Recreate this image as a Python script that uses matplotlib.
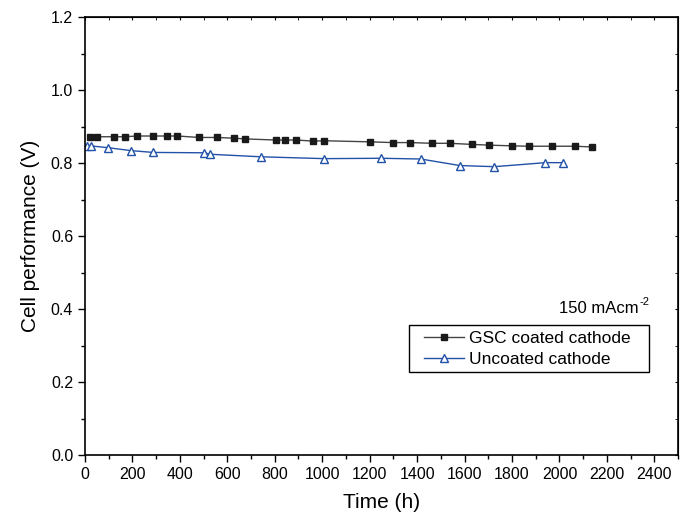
import matplotlib
matplotlib.use("Agg")
import matplotlib.pyplot as plt
from matplotlib.patches import Rectangle
from matplotlib.ticker import MultipleLocator

plt.rcParams['font.family'] = ['Liberation Sans', 'DejaVu Sans']

# coated cathode
t_gsc = [21, 49, 122, 169, 218, 288, 345, 389, 482, 555, 628, 675, 805, 843, 890,
         962, 1008, 1202, 1297, 1370, 1464, 1538, 1632, 1703, 1800, 1871, 1969, 2066, 2137]
v_gsc = [0.870, 0.872, 0.872, 0.872, 0.874, 0.874, 0.874, 0.874, 0.870, 0.870, 0.868,
         0.866, 0.863, 0.863, 0.863, 0.860, 0.861, 0.858, 0.856, 0.856, 0.854, 0.854,
         0.851, 0.849, 0.847, 0.846, 0.846, 0.846, 0.844]

# uncoated cathode
t_unc = [10, 24, 97, 193, 288, 503, 528, 743, 1009, 1248, 1415, 1581, 1726, 1941, 2014]
v_unc = [0.847, 0.847, 0.842, 0.834, 0.829, 0.828, 0.824, 0.817, 0.812, 0.813, 0.811,
         0.793, 0.790, 0.801, 0.801]

fig = plt.figure(figsize=(6.87, 5.19), dpi=100)
ax = fig.add_axes([0.1237, 0.1233, 0.987 - 0.1237, 0.9672 - 0.1233])

ax.plot(t_gsc, v_gsc, color='#444444', lw=1.0, marker='s', ms=4.2,
        mfc='#1a1a1a', mec='#1a1a1a', label='GSC coated cathode')
ax.plot(t_unc, v_unc, color='#2251a8', lw=1.0, marker='^', ms=5.5,
        mfc='white', mec='#2251a8', mew=1.0, label='Uncoated cathode')

ax.set_xlim(0, 2500)
ax.set_ylim(0, 1.2)
ax.xaxis.set_major_locator(MultipleLocator(200))
ax.xaxis.set_minor_locator(MultipleLocator(100))
ax.yaxis.set_major_locator(MultipleLocator(0.2))
ax.yaxis.set_minor_locator(MultipleLocator(0.1))
ax.yaxis.set_major_formatter(plt.FuncFormatter(lambda v, p: f"{v:.1f}"))

ax.tick_params(which='major', direction='out', length=5, width=1, labelsize=11.5)
ax.tick_params(which='minor', direction='out', length=3, width=1)
for sp in ax.spines.values():
    sp.set_linewidth(1.2)

# small inward ticks on top and right
top = ax.secondary_xaxis('top')
top.xaxis.set_major_locator(MultipleLocator(200))
top.xaxis.set_minor_locator(MultipleLocator(100))
top.tick_params(which='both', direction='in', length=2, labeltop=False)
right = ax.secondary_yaxis('right')
right.yaxis.set_major_locator(MultipleLocator(0.2))
right.yaxis.set_minor_locator(MultipleLocator(0.1))
right.tick_params(which='both', direction='in', length=2, labelright=False)

ax.set_xlabel('Time (h)', fontsize=15, labelpad=8)
ax.set_ylabel('Cell performance (V)', fontsize=15, labelpad=8)

ax.text(2335, 0.389, '150 mAcm', fontsize=12, ha='right', va='baseline')
ax.text(2338, 0.412, '-2', fontsize=8, ha='left', va='baseline')

# legend with a wider box drawn separately
ax.add_patch(Rectangle((0.546, 0.189), 0.405, 0.108, transform=ax.transAxes,
                       fill=True, facecolor='white', edgecolor='black', lw=1.0, zorder=4))
leg = ax.legend(loc='upper left', bbox_to_anchor=(0.572, 0.284), fontsize=12.5,
                frameon=False, borderpad=0, borderaxespad=0, handlelength=2.3,
                handletextpad=0.3, labelspacing=0.33)
leg.set_zorder(5)

fig.savefig('out.png', dpi=100)
